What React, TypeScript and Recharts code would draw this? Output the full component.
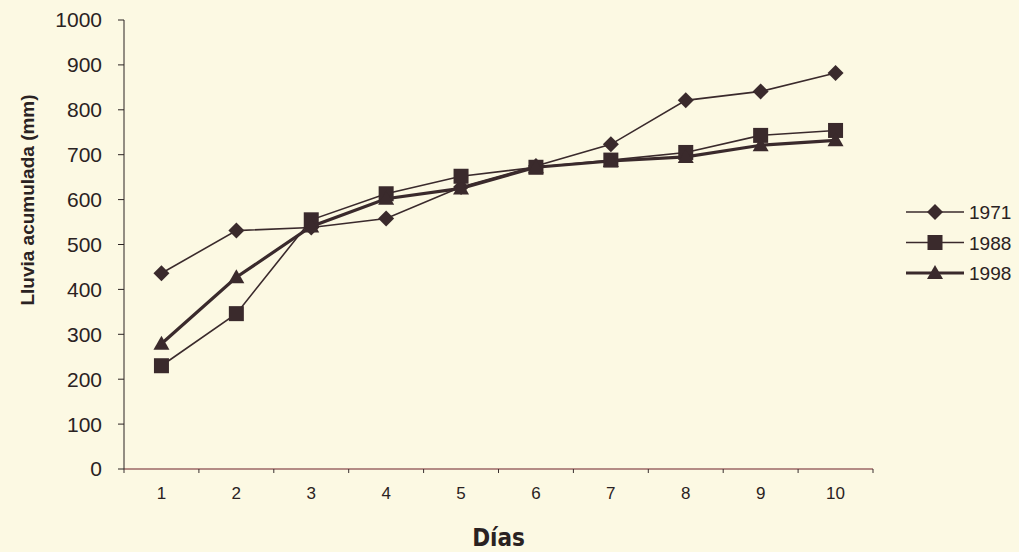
import React from 'react';
import { LineChart, Line, XAxis, YAxis } from 'recharts';

const days = [1, 2, 3, 4, 5, 6, 7, 8, 9, 10];
const rain1971 = [436, 531, 538, 558, 628, 675, 723, 821, 841, 882];
const rain1988 = [230, 346, 555, 613, 652, 672, 688, 705, 743, 754];
const rain1998 = [279, 427, 540, 602, 625, 672, 686, 695, 721, 732];
const yTicks = [0, 100, 200, 300, 400, 500, 600, 700, 800, 900, 1000];
const edgeTicks = [0.5, 1.5, 2.5, 3.5, 4.5, 5.5, 6.5, 7.5, 8.5, 9.5, 10.5];

const series = [
  { key: 'y1971', name: '1971', shape: 'diamond', width: 1.6 },
  { key: 'y1988', name: '1988', shape: 'square', width: 1.6 },
  { key: 'y1998', name: '1998', shape: 'triangle', width: 3.2 },
];

const data = days.map((d, i) => ({
  day: d,
  y1971: rain1971[i],
  y1988: rain1988[i],
  y1998: rain1998[i],
}));

const INK = '#3a2a2c';
const TEXT = '#2a2222';
const BG = '#fcf9e3';
const ARIAL = 'Liberation Sans, Arial, sans-serif';
const NARROW = 'DejaVu Sans Condensed, Liberation Sans Narrow, sans-serif';

const Marker = ({ cx, cy, shape }: { cx: number; cy: number; shape: string }) => {
  if (cx == null || cy == null) return null;
  if (shape === 'diamond') {
    const r = 8;
    return <polygon points={`${cx},${cy - r} ${cx + r},${cy} ${cx},${cy + r} ${cx - r},${cy}`} fill={INK} />;
  }
  if (shape === 'square') {
    const s = 7.5;
    return <rect x={cx - s} y={cy - s} width={s * 2} height={s * 2} fill={INK} />;
  }
  return <polygon points={`${cx},${cy - 8} ${cx + 8},${cy + 6} ${cx - 8},${cy + 6}`} fill={INK} />;
};

// legend drawn beside the plot, like the original figure
const LegendBox = () => (
  <svg width={119} height={100} style={{ position: 'absolute', left: 900, top: 197 }}>
    {series.map((s, i) => {
      const y = 15 + i * 30.5;
      return (
        <g key={s.key}>
          <line x1={6} x2={64} y1={y} y2={y} stroke={INK} strokeWidth={s.width} />
          <Marker cx={35} cy={y} shape={s.shape} />
          <text x={69} y={y + 7} fontSize={19} fill={TEXT} fontFamily={ARIAL}>
            {s.name}
          </text>
        </g>
      );
    })}
  </svg>
);

export default function App() {
  return (
    <div style={{ position: 'absolute', left: 0, top: 0, width: 1019, height: 552, background: BG }}>
      <LineChart width={1019} height={552} data={data} margin={{ top: 20, right: 146, bottom: 0, left: 0 }}>
        <XAxis
          xAxisId="a-edges"
          dataKey="day"
          type="number"
          domain={[0.5, 10.5]}
          ticks={edgeTicks}
          tickFormatter={() => ''}
          height={1}
          tickSize={4}
          tickLine={{ stroke: '#3a3030' }}
          axisLine={{ stroke: '#9c6766', strokeWidth: 1.4 }}
        />
        <XAxis
          xAxisId="b-days"
          dataKey="day"
          type="number"
          domain={[0.5, 10.5]}
          ticks={days}
          axisLine={false}
          tickLine={false}
          height={82}
          tickSize={0}
          tickMargin={17}
          tick={{ fontSize: 17, fill: TEXT, fontFamily: ARIAL }}
          label={{
            value: 'Días',
            position: 'insideBottom',
            offset: 6,
            fontSize: 24,
            fontWeight: 'bold',
            fill: TEXT,
            fontFamily: NARROW,
          }}
        />
        <YAxis
          type="number"
          domain={[0, 1000]}
          ticks={yTicks}
          width={124}
          tickSize={6}
          tickMargin={16}
          stroke={TEXT}
          tick={{ fontSize: 21, fill: TEXT, fontFamily: ARIAL }}
          label={() => (
            <text
              x={27}
              y={200}
              transform="rotate(-90 27 200)"
              textAnchor="middle"
              dominantBaseline="central"
              fontSize={19}
              fontWeight="bold"
              fill={TEXT}
              fontFamily={ARIAL}
            >
              Lluvia acumulada (mm)
            </text>
          )}
        />
        {series.map((s) => (
          <Line
            key={s.key}
            xAxisId="b-days"
            dataKey={s.key}
            name={s.name}
            stroke={INK}
            strokeWidth={s.width}
            isAnimationActive={false}
            dot={(p: any) => <Marker key={`${s.key}-${p.index}`} cx={p.cx} cy={p.cy} shape={s.shape} />}
            activeDot={false}
          />
        ))}
      </LineChart>
      <LegendBox />
    </div>
  );
}
